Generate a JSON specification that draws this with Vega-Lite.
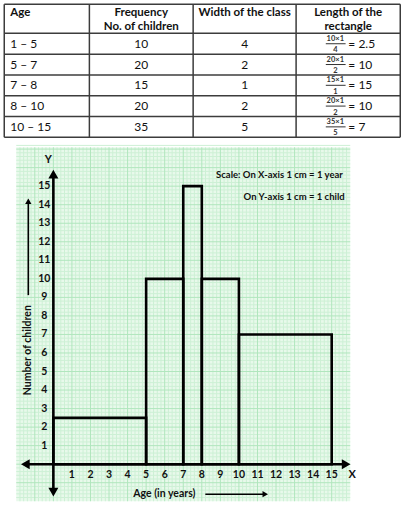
{
  "$schema": "https://vega.github.io/schema/vega-lite/v6.json",
  "padding": {"left": 3.25, "top": 3.25, "right": 0, "bottom": 0},
  "background": "white",
  "spacing": 6,
  "config": {
    "view": {"stroke": null},
    "font": "Lato",
    "text": {"color": "#111"}
  },
  "datasets": {
    "header": [{"age": "Age", "freq": "Frequency\nNo. of children", "cw": "Width of the class", "len": "Length of the\nrectangle"}],
    "table": [
      {"row": 1, "age": "1 – 5", "freq": 10, "cw": 4, "num": "10×1", "den": 4, "len": 2.5},
      {"row": 2, "age": "5 – 7", "freq": 20, "cw": 2, "num": "20×1", "den": 2, "len": 10},
      {"row": 3, "age": "7 – 8", "freq": 15, "cw": 1, "num": "15×1", "den": 1, "len": 15},
      {"row": 4, "age": "8 – 10", "freq": 20, "cw": 2, "num": "20×1", "den": 2, "len": 10},
      {"row": 5, "age": "10 – 15", "freq": 35, "cw": 5, "num": "35×1", "den": 5, "len": 7}
    ],
    "hlines": [{"y": -0.9}, {"y": 0.5}, {"y": 1.5}, {"y": 2.5}, {"y": 3.5}, {"y": 4.5}, {"y": 5.5}],
    "vlines": [{"x": 0}, {"x": 21.5}, {"x": 47.7}, {"x": 73.7}, {"x": 100}],
    "minorX": [{"v":-1.8},{"v":-1.6},{"v":-1.4},{"v":-1.2},{"v":-0.8},{"v":-0.6},{"v":-0.4},{"v":-0.2},{"v":0.2},{"v":0.4},{"v":0.6},{"v":0.8},{"v":1.2},{"v":1.4},{"v":1.6},{"v":1.8},{"v":2.2},{"v":2.4},{"v":2.6},{"v":2.8},{"v":3.2},{"v":3.4},{"v":3.6},{"v":3.8},{"v":4.2},{"v":4.4},{"v":4.6},{"v":4.8},{"v":5.2},{"v":5.4},{"v":5.6},{"v":5.8},{"v":6.2},{"v":6.4},{"v":6.6},{"v":6.8},{"v":7.2},{"v":7.4},{"v":7.6},{"v":7.8},{"v":8.2},{"v":8.4},{"v":8.6},{"v":8.8},{"v":9.2},{"v":9.4},{"v":9.6},{"v":9.8},{"v":10.2},{"v":10.4},{"v":10.6},{"v":10.8},{"v":11.2},{"v":11.4},{"v":11.6},{"v":11.8},{"v":12.2},{"v":12.4},{"v":12.6},{"v":12.8},{"v":13.2},{"v":13.4},{"v":13.6},{"v":13.8},{"v":14.2},{"v":14.4},{"v":14.6},{"v":14.8},{"v":15.2},{"v":15.4},{"v":15.6},{"v":15.8}],
    "majorX": [{"v":-1},{"v":0},{"v":1},{"v":2},{"v":3},{"v":4},{"v":5},{"v":6},{"v":7},{"v":8},{"v":9},{"v":10},{"v":11},{"v":12},{"v":13},{"v":14},{"v":15}],
    "minorY": [{"v":-1.8},{"v":-1.6},{"v":-1.4},{"v":-1.2},{"v":-0.8},{"v":-0.6},{"v":-0.4},{"v":-0.2},{"v":0.2},{"v":0.4},{"v":0.6},{"v":0.8},{"v":1.2},{"v":1.4},{"v":1.6},{"v":1.8},{"v":2.2},{"v":2.4},{"v":2.6},{"v":2.8},{"v":3.2},{"v":3.4},{"v":3.6},{"v":3.8},{"v":4.2},{"v":4.4},{"v":4.6},{"v":4.8},{"v":5.2},{"v":5.4},{"v":5.6},{"v":5.8},{"v":6.2},{"v":6.4},{"v":6.6},{"v":6.8},{"v":7.2},{"v":7.4},{"v":7.6},{"v":7.8},{"v":8.2},{"v":8.4},{"v":8.6},{"v":8.8},{"v":9.2},{"v":9.4},{"v":9.6},{"v":9.8},{"v":10.2},{"v":10.4},{"v":10.6},{"v":10.8},{"v":11.2},{"v":11.4},{"v":11.6},{"v":11.8},{"v":12.2},{"v":12.4},{"v":12.6},{"v":12.8},{"v":13.2},{"v":13.4},{"v":13.6},{"v":13.8},{"v":14.2},{"v":14.4},{"v":14.6},{"v":14.8},{"v":15.2},{"v":15.4},{"v":15.6},{"v":15.8},{"v":16.2},{"v":16.4},{"v":16.6},{"v":16.8},{"v":17.2}],
    "majorY": [{"v":-1},{"v":0},{"v":1},{"v":2},{"v":3},{"v":4},{"v":5},{"v":6},{"v":7},{"v":8},{"v":9},{"v":10},{"v":11},{"v":12},{"v":13},{"v":14},{"v":15},{"v":16},{"v":17}],
    "ticks": [{"v":1},{"v":2},{"v":3},{"v":4},{"v":5},{"v":6},{"v":7},{"v":8},{"v":9},{"v":10},{"v":11},{"v":12},{"v":13},{"v":14},{"v":15}],
    "bars": [
      {"start": 0, "end": 5, "height": 2.5},
      {"start": 5, "end": 7, "height": 10},
      {"start": 7, "end": 8, "height": 15},
      {"start": 8, "end": 10, "height": 10},
      {"start": 10, "end": 15, "height": 7}
    ],
    "axisLines": [{"x": -1.51, "x2": 15.78, "y": 0, "y2": 0}, {"x": 0, "x2": 0, "y": -1.51, "y2": 15.65}],
    "bigArrows": [{"x": -1.51, "y": 0, "dir": "left"}, {"x": 15.78, "y": 0, "dir": "right"}, {"x": 0, "y": 15.65, "dir": "up"}, {"x": 0, "y": -1.51, "dir": "down"}],
    "pointers": [{"x": -1.35, "x2": -1.35, "y": 9.12, "y2": 14.19}, {"x": 8.19, "x2": 11.42, "y": -1.62, "y2": -1.62}],
    "smallArrows": [{"x": -1.35, "y": 14.19, "dir": "up"}, {"x": 11.42, "y": -1.62, "dir": "right"}],
    "letters": [{"t": "Y", "x": -0.27, "y": 16.4}, {"t": "X", "x": 16.1, "y": -0.6}],
    "notes": [{"t": "Scale: On X-axis 1 cm = 1 year", "x": 15.6, "y": 15.6}, {"t": "On Y-axis 1 cm = 1 child", "x": 15.7, "y": 14.4}],
    "xtitle": [{"t": "Age (in years)", "x": 5.98, "y": -1.62}],
    "ytitle": [{"t": "Number of children", "x": -1.35, "y": 6.15}]
  },
  "vconcat": [
    {
      "width": 384,
      "height": 133,
      "layer": [
        {
          "data": {"name": "hlines"},
          "mark": {"type": "rule", "color": "#3c3c3c", "strokeWidth": 1.5},
          "encoding": {
            "y": {"field": "y", "type": "quantitative", "scale": {"domain": [-0.9, 5.5], "range": [0, 133]}, "axis": null},
            "x": {"datum": 0, "type": "quantitative", "scale": {"domain": [0, 100], "range": [-12, 384]}, "axis": null},
            "x2": {"datum": 100}
          }
        },
        {
          "data": {"name": "vlines"},
          "mark": {"type": "rule", "color": "#3c3c3c", "strokeWidth": 1.5},
          "encoding": {
            "x": {"field": "x", "type": "quantitative", "scale": {"domain": [0, 100], "range": [-12, 384]}, "axis": null},
            "y": {"datum": -0.9, "type": "quantitative", "scale": {"domain": [-0.9, 5.5], "range": [0, 133]}, "axis": null},
            "y2": {"datum": 5.5}
          }
        },
        {
          "data": {"name": "header"},
          "mark": {"type": "text", "align": "left", "baseline": "top", "fontWeight": "bold", "fontSize": 11.5, "yOffset": 3, "lineBreak": "\n", "lineHeight": 14},
          "encoding": {
            "text": {"field": "age"},
            "x": {"datum": 1.5, "type": "quantitative", "scale": {"domain": [0, 100], "range": [-12, 384]}, "axis": null},
            "y": {"datum": -0.9, "type": "quantitative", "scale": {"domain": [-0.9, 5.5], "range": [0, 133]}, "axis": null}
          }
        },
        {
          "data": {"name": "header"},
          "mark": {"type": "text", "align": "center", "baseline": "top", "fontWeight": "bold", "fontSize": 11.5, "yOffset": 3, "lineBreak": "\n", "lineHeight": 14},
          "encoding": {
            "text": {"field": "freq"},
            "x": {"datum": 34.6, "type": "quantitative", "scale": {"domain": [0, 100], "range": [-12, 384]}, "axis": null},
            "y": {"datum": -0.9, "type": "quantitative", "scale": {"domain": [-0.9, 5.5], "range": [0, 133]}, "axis": null}
          }
        },
        {
          "data": {"name": "header"},
          "mark": {"type": "text", "align": "center", "baseline": "top", "fontWeight": "bold", "fontSize": 11.5, "yOffset": 3, "lineBreak": "\n", "lineHeight": 14},
          "encoding": {
            "text": {"field": "cw"},
            "x": {"datum": 60.7, "type": "quantitative", "scale": {"domain": [0, 100], "range": [-12, 384]}, "axis": null},
            "y": {"datum": -0.9, "type": "quantitative", "scale": {"domain": [-0.9, 5.5], "range": [0, 133]}, "axis": null}
          }
        },
        {
          "data": {"name": "header"},
          "mark": {"type": "text", "align": "center", "baseline": "top", "fontWeight": "bold", "fontSize": 11.5, "yOffset": 3, "lineBreak": "\n", "lineHeight": 14},
          "encoding": {
            "text": {"field": "len"},
            "x": {"datum": 86.85, "type": "quantitative", "scale": {"domain": [0, 100], "range": [-12, 384]}, "axis": null},
            "y": {"datum": -0.9, "type": "quantitative", "scale": {"domain": [-0.9, 5.5], "range": [0, 133]}, "axis": null}
          }
        },
        {
          "data": {"name": "table"},
          "mark": {"type": "text", "align": "left", "baseline": "middle", "fontSize": 12},
          "encoding": {
            "text": {"field": "age"},
            "x": {"datum": 1.5, "type": "quantitative", "scale": {"domain": [0, 100], "range": [-12, 384]}, "axis": null},
            "y": {"field": "row", "type": "quantitative", "scale": {"domain": [-0.9, 5.5], "range": [0, 133]}, "axis": null}
          }
        },
        {
          "data": {"name": "table"},
          "mark": {"type": "text", "align": "center", "baseline": "middle", "fontSize": 12},
          "encoding": {
            "text": {"field": "freq"},
            "x": {"datum": 34.6, "type": "quantitative", "scale": {"domain": [0, 100], "range": [-12, 384]}, "axis": null},
            "y": {"field": "row", "type": "quantitative", "scale": {"domain": [-0.9, 5.5], "range": [0, 133]}, "axis": null}
          }
        },
        {
          "data": {"name": "table"},
          "mark": {"type": "text", "align": "center", "baseline": "middle", "fontSize": 12},
          "encoding": {
            "text": {"field": "cw"},
            "x": {"datum": 60.7, "type": "quantitative", "scale": {"domain": [0, 100], "range": [-12, 384]}, "axis": null},
            "y": {"field": "row", "type": "quantitative", "scale": {"domain": [-0.9, 5.5], "range": [0, 133]}, "axis": null}
          }
        },
        {
          "data": {"name": "table"},
          "mark": {"type": "text", "align": "center", "baseline": "middle", "fontSize": 7.5, "fontWeight": "bold", "yOffset": -5, "color": "#333"},
          "encoding": {
            "text": {"field": "num"},
            "x": {"datum": 83.6, "type": "quantitative", "scale": {"domain": [0, 100], "range": [-12, 384]}, "axis": null},
            "y": {"field": "row", "type": "quantitative", "scale": {"domain": [-0.9, 5.5], "range": [0, 133]}, "axis": null}
          }
        },
        {
          "data": {"name": "table"},
          "mark": {"type": "text", "align": "center", "baseline": "middle", "fontSize": 7.5, "fontWeight": "bold", "yOffset": 6.5, "color": "#333"},
          "encoding": {
            "text": {"field": "den"},
            "x": {"datum": 83.6, "type": "quantitative", "scale": {"domain": [0, 100], "range": [-12, 384]}, "axis": null},
            "y": {"field": "row", "type": "quantitative", "scale": {"domain": [-0.9, 5.5], "range": [0, 133]}, "axis": null}
          }
        },
        {
          "data": {"name": "table"},
          "mark": {"type": "rule", "color": "#333", "strokeWidth": 1},
          "encoding": {
            "x": {"datum": 81.2, "type": "quantitative", "scale": {"domain": [0, 100], "range": [-12, 384]}, "axis": null},
            "x2": {"datum": 86.2},
            "y": {"field": "row", "type": "quantitative", "scale": {"domain": [-0.9, 5.5], "range": [0, 133]}, "axis": null}
          }
        },
        {
          "data": {"name": "table"},
          "transform": [{"calculate": "'= ' + datum.len", "as": "eq"}],
          "mark": {"type": "text", "align": "left", "baseline": "middle", "fontSize": 12},
          "encoding": {
            "text": {"field": "eq"},
            "x": {"datum": 86.9, "type": "quantitative", "scale": {"domain": [0, 100], "range": [-12, 384]}, "axis": null},
            "y": {"field": "row", "type": "quantitative", "scale": {"domain": [-0.9, 5.5], "range": [0, 133]}, "axis": null}
          }
        }
      ]
    },
    {
      "width": 334,
      "height": 354,
      "view": {"fill": "#e8f9eb", "stroke": null},
      "layer": [
        {
          "data": {"name": "minorX"},
          "mark": {"type": "rule", "color": "#cdf0d5", "strokeWidth": 1},
          "encoding": {
            "x": {"field": "v", "type": "quantitative", "axis": null, "scale": {"domain": [-2, 16], "nice": false, "zero": false}},
            "y": {"datum": -2, "type": "quantitative", "axis": null, "scale": {"domain": [-2, 17.1], "nice": false, "zero": false}},
            "y2": {"datum": 17.1}
          }
        },
        {
          "data": {"name": "minorY"},
          "mark": {"type": "rule", "color": "#cdf0d5", "strokeWidth": 1},
          "encoding": {
            "y": {"field": "v", "type": "quantitative", "axis": null},
            "x": {"datum": -2, "type": "quantitative", "axis": null},
            "x2": {"datum": 16}
          }
        },
        {
          "data": {"name": "majorX"},
          "mark": {"type": "rule", "color": "#b0e6bd", "strokeWidth": 1},
          "encoding": {
            "x": {"field": "v", "type": "quantitative", "axis": null},
            "y": {"datum": -2, "type": "quantitative", "axis": null},
            "y2": {"datum": 17.1}
          }
        },
        {
          "data": {"name": "majorY"},
          "mark": {"type": "rule", "color": "#b0e6bd", "strokeWidth": 1},
          "encoding": {
            "y": {"field": "v", "type": "quantitative", "axis": null},
            "x": {"datum": -2, "type": "quantitative", "axis": null},
            "x2": {"datum": 16}
          }
        },
        {
          "data": {"name": "bars"},
          "mark": {"type": "rect", "fillOpacity": 0, "stroke": "black", "strokeWidth": 2.6},
          "encoding": {
            "x": {"field": "start", "type": "quantitative", "axis": null},
            "x2": {"field": "end"},
            "y": {"field": "height", "type": "quantitative", "axis": null},
            "y2": {"datum": 0}
          }
        },
        {
          "data": {"name": "axisLines"},
          "mark": {"type": "rule", "color": "black", "strokeWidth": 2.6},
          "encoding": {
            "x": {"field": "x", "type": "quantitative", "axis": null},
            "x2": {"field": "x2"},
            "y": {"field": "y", "type": "quantitative", "axis": null},
            "y2": {"field": "y2"}
          }
        },
        {
          "data": {"name": "bigArrows"},
          "mark": {"type": "point", "filled": true, "color": "black", "opacity": 1, "size": 100},
          "encoding": {
            "x": {"field": "x", "type": "quantitative", "axis": null},
            "y": {"field": "y", "type": "quantitative", "axis": null},
            "shape": {"field": "dir", "type": "nominal", "legend": null, "scale": {"domain": ["left", "right", "up", "down"], "range": ["triangle-left", "triangle-right", "triangle-up", "triangle-down"]}}
          }
        },
        {
          "data": {"name": "pointers"},
          "mark": {"type": "rule", "color": "black", "strokeWidth": 1.6},
          "encoding": {
            "x": {"field": "x", "type": "quantitative", "axis": null},
            "x2": {"field": "x2"},
            "y": {"field": "y", "type": "quantitative", "axis": null},
            "y2": {"field": "y2"}
          }
        },
        {
          "data": {"name": "smallArrows"},
          "mark": {"type": "point", "filled": true, "color": "black", "opacity": 1, "size": 40},
          "encoding": {
            "x": {"field": "x", "type": "quantitative", "axis": null},
            "y": {"field": "y", "type": "quantitative", "axis": null},
            "shape": {"field": "dir", "type": "nominal", "legend": null, "scale": {"domain": ["left", "right", "up", "down"], "range": ["triangle-left", "triangle-right", "triangle-up", "triangle-down"]}}
          }
        },
        {
          "data": {"name": "ticks"},
          "mark": {"type": "text", "align": "center", "baseline": "middle", "fontWeight": "bold", "fontSize": 10.5, "yOffset": 11},
          "encoding": {
            "text": {"field": "v"},
            "x": {"field": "v", "type": "quantitative", "axis": null},
            "y": {"datum": 0, "type": "quantitative", "axis": null}
          }
        },
        {
          "data": {"name": "ticks"},
          "mark": {"type": "text", "align": "center", "baseline": "middle", "fontWeight": "bold", "fontSize": 10.5, "xOffset": -9},
          "encoding": {
            "text": {"field": "v"},
            "y": {"field": "v", "type": "quantitative", "axis": null},
            "x": {"datum": 0, "type": "quantitative", "axis": null}
          }
        },
        {
          "data": {"name": "letters"},
          "mark": {"type": "text", "align": "center", "baseline": "middle", "fontWeight": "bold", "fontSize": 11},
          "encoding": {
            "text": {"field": "t"},
            "x": {"field": "x", "type": "quantitative", "axis": null},
            "y": {"field": "y", "type": "quantitative", "axis": null}
          }
        },
        {
          "data": {"name": "notes"},
          "mark": {"type": "text", "align": "right", "baseline": "middle", "fontWeight": "bold", "fontSize": 9.5},
          "encoding": {
            "text": {"field": "t"},
            "x": {"field": "x", "type": "quantitative", "axis": null},
            "y": {"field": "y", "type": "quantitative", "axis": null}
          }
        },
        {
          "data": {"name": "xtitle"},
          "mark": {"type": "text", "align": "center", "baseline": "middle", "fontWeight": "bold", "fontSize": 10.5},
          "encoding": {
            "text": {"field": "t"},
            "x": {"field": "x", "type": "quantitative", "axis": null},
            "y": {"field": "y", "type": "quantitative", "axis": null}
          }
        },
        {
          "data": {"name": "ytitle"},
          "mark": {"type": "text", "align": "center", "baseline": "middle", "fontWeight": "bold", "fontSize": 10.5, "angle": 270},
          "encoding": {
            "text": {"field": "t"},
            "x": {"field": "x", "type": "quantitative", "axis": null},
            "y": {"field": "y", "type": "quantitative", "axis": null}
          }
        }
      ]
    }
  ]
}
